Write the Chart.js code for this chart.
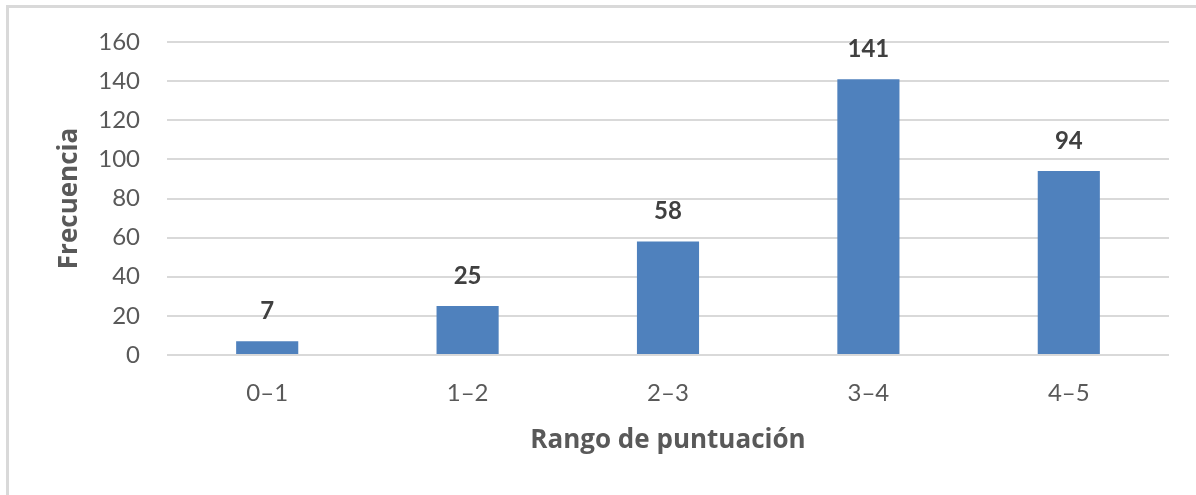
<!DOCTYPE html>
<html>
<head>
<meta charset="utf-8">
<script src="https://cdn.jsdelivr.net/npm/chart.js@4/dist/chart.umd.min.js"></script>
<style>
  html, body { margin: 0; padding: 0; background: #fff; overflow: hidden; }
  #marco { position: absolute; left: 6px; top: 5px; width: 1400px; height: 700px;
           border-top: 3px solid #d9d9d9; border-left: 3px solid #d9d9d9; }
  #caja { position: absolute; left: 0; top: 0; width: 1196px; height: 495px; }
</style>
</head>
<body>
<div id="marco"></div>
<div id="caja"><canvas id="grafico"></canvas></div>
<script>
// Datos del gráfico
const rangos = ["0\u20131", "1\u20132", "2\u20133", "3\u20134", "4\u20135"];
const frecuencias = [7, 25, 58, 141, 94];
const ticksY = [0, 20, 40, 60, 80, 100, 120, 140, 160];

// Etiquetas de valor encima de cada barra
const etiquetasBarras = {
  id: "etiquetasBarras",
  afterDatasetsDraw(chart) {
    const ctx = chart.ctx;
    const meta = chart.getDatasetMeta(0);
    ctx.save();
    ctx.font = "bold 24px Lato";
    ctx.fillStyle = "#404040";
    ctx.textAlign = "center";
    ctx.textBaseline = "middle";
    meta.data.forEach((bar, i) => {
      ctx.fillText(String(frecuencias[i]), bar.x, bar.y - 30);
    });
    ctx.restore();
  }
};

new Chart(document.getElementById("grafico"), {
  type: "bar",
  data: {
    labels: rangos,
    datasets: [{
      data: frecuencias,
      backgroundColor: "#4f81bd",
      categoryPercentage: 1,
      barPercentage: 0.31
    }]
  },
  options: {
    responsive: true,
    maintainAspectRatio: false,
    animation: false,
    layout: { padding: { top: 42, right: 27, left: 0, bottom: 0 } },
    plugins: {
      legend: { display: false },
      tooltip: { enabled: false }
    },
    scales: {
      x: {
        grid: { display: false, drawTicks: false },
        border: { display: false },
        ticks: { color: "#595959", font: { family: "Lato", size: 24 }, padding: 24 },
        title: {
          display: true,
          text: "Rango de puntuación",
          color: "#595959",
          font: { family: "Open Sans", size: 26, weight: "bold" },
          padding: { top: 0, bottom: 39 }
        },
        afterFit(scale) { scale.height = 140; }
      },
      y: {
        min: 0,
        max: 160,
        afterBuildTicks(scale) { scale.ticks = ticksY.map(v => ({ value: v })); },
        grid: { color: "#d9d9d9", lineWidth: 2, drawTicks: false },
        border: { display: false },
        ticks: { color: "#595959", font: { family: "Lato", size: 24 }, padding: 27 },
        title: {
          display: true,
          text: "Frecuencia",
          color: "#595959",
          font: { family: "Open Sans", size: 26, weight: "bold" },
          padding: { top: 54, bottom: 0 }
        },
        afterFit(scale) { scale.width = 167; }
      }
    }
  },
  plugins: [etiquetasBarras]
});
</script>
</body>
</html>
